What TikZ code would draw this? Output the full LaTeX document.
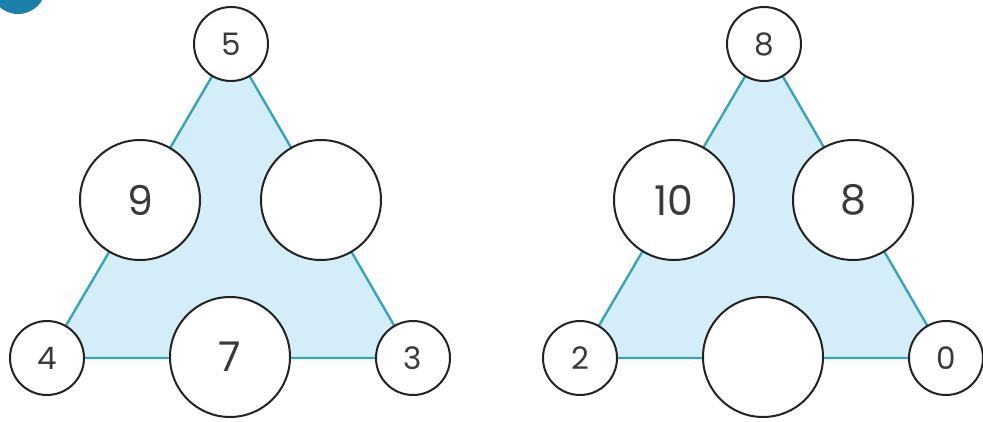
\documentclass[tikz,border=0pt]{standalone}
\usepackage{fontspec}
\setmainfont{Poppins}
\usetikzlibrary{backgrounds}
\definecolor{fillblue}{HTML}{D3EEF9}
\definecolor{edgeteal}{HTML}{3AA3B6}
\definecolor{ringgray}{HTML}{222222}
\definecolor{txtgray}{HTML}{3A3A3A}
\definecolor{badge}{HTML}{1B7FAA}
\tikzset{
  smallc/.style={circle, draw=ringgray, line width=2pt, fill=white, minimum size=74pt, inner sep=0pt, text=txtgray, font=\fontsize{31}{31}\selectfont},
  bigc/.style={circle, draw=ringgray, line width=2pt, fill=white, minimum size=120pt, inner sep=0pt, text=txtgray, font=\fontsize{41}{41}\selectfont},
  tri/.style={fill=fillblue, draw=edgeteal, line width=2.4pt, line join=round}
}
\begin{document}
\begin{tikzpicture}[x=1pt,y=-1pt]
\useasboundingbox (0,0) rectangle (983,422);
\fill[badge] (18,-14) circle (28);
% left triangle
\node[smallc] (a1) at (231,44) {5};
\node[smallc] (a2) at (47,358) {4};
\node[smallc] (a3) at (413,358) {3};
\node[bigc] (a4) at (140,200) {9};
\node[bigc] (a5) at (321,200) {};
\node[bigc] (a6) at (230,357) {7};
% right triangle
\node[smallc] (b1) at (764,44) {8};
\node[smallc] (b2) at (580,358) {2};
\node[smallc] (b3) at (946,358) {0};
\node[bigc] (b4) at (674,200) {10};
\node[bigc] (b5) at (853,200) {8};
\node[bigc] (b6) at (763,357) {};
\begin{scope}[on background layer]
\draw[tri] (a1.center) -- (a2.center) -- (a3.center) -- cycle;
\draw[tri] (b1.center) -- (b2.center) -- (b3.center) -- cycle;
\end{scope}
\end{tikzpicture}
\end{document}
